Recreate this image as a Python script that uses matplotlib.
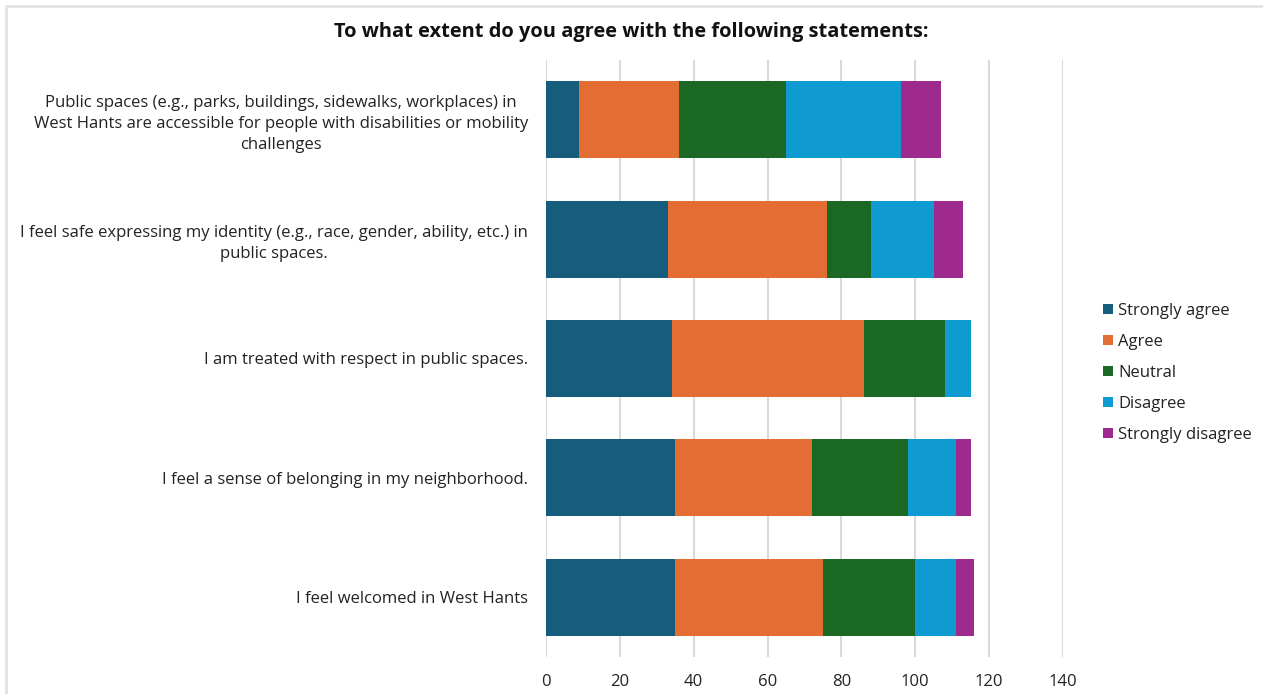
import numpy as np
import matplotlib
matplotlib.use('Agg')
import matplotlib.pyplot as plt
from matplotlib.patches import Rectangle

plt.rcParams['font.family'] = ['Open Sans', 'DejaVu Sans']

statements = [
    'Public spaces (e.g., parks, buildings, sidewalks, workplaces) in\n'
    'West Hants are accessible for people with disabilities or mobility\n'
    'challenges',
    'I feel safe expressing my identity (e.g., race, gender, ability, etc.) in\n'
    'public spaces.',
    'I am treated with respect in public spaces.',
    'I feel a sense of belonging in my neighborhood.',
    'I feel welcomed in West Hants',
]
responses = ['Strongly agree', 'Agree', 'Neutral', 'Disagree', 'Strongly disagree']

strongly_agree = [9, 33, 34, 35, 35]
agree = [27, 43, 52, 37, 40]
neutral = [29, 12, 22, 26, 25]
disagree = [31, 17, 7, 13, 11]
strongly_disagree = [11, 8, 0, 4, 5]

colors = ['#165c7d', '#e46d33', '#1b6824', '#109ad2', '#9e2a8e']


def main():
    fig = plt.figure(figsize=(12.63, 6.94), dpi=100)
    ax = fig.add_axes([546 / 1263, 1 - 657 / 694, (1063 - 546) / 1263, (657 - 60) / 694])

    # light frame around the whole chart
    fig.patches.append(Rectangle((6 / 1263, -0.05), 1.1, 1 - 6 / 694 + 0.05,
                                 transform=fig.transFigure, fill=False,
                                 edgecolor='#e3e3e3', linewidth=2))

    y = np.arange(len(statements))
    left = np.zeros(len(statements))
    series = [strongly_agree, agree, neutral, disagree, strongly_disagree]
    for vals, name, col in zip(series, responses, colors):
        ax.barh(y, vals, left=left, height=0.645, color=col, label=name)
        left += np.array(vals)

    ax.set_xlim(0, 140)
    ax.set_xticks(range(0, 141, 20))
    ax.set_ylim(len(statements) - 0.5, -0.5)
    ax.set_yticks(y)
    ax.set_yticklabels(statements, multialignment='center', linespacing=1.4)
    ax.tick_params(axis='both', length=0, labelsize=12, colors='#222222')
    ax.tick_params(axis='x', pad=12)
    ax.tick_params(axis='y', pad=13)
    ax.grid(axis='x', color='#dadada', linewidth=1.5)
    ax.set_axisbelow(True)
    for s in ax.spines.values():
        s.set_visible(False)

    fig.text(0.5, 1 - 32 / 694, 'To what extent do you agree with the following statements:',
             ha='center', va='center', fontsize=14.4, fontweight='bold', color='#111111')

    ax.legend(loc='center left', bbox_to_anchor=(1088 / 1263, 1 - 373 / 694),
              bbox_transform=fig.transFigure, frameon=False, fontsize=12,
              handlelength=0.6, handleheight=0.6, handletextpad=0.3,
              labelspacing=0.9, labelcolor='#222222')

    fig.savefig('out.png', dpi=100)


if __name__ == '__main__':

    main()
